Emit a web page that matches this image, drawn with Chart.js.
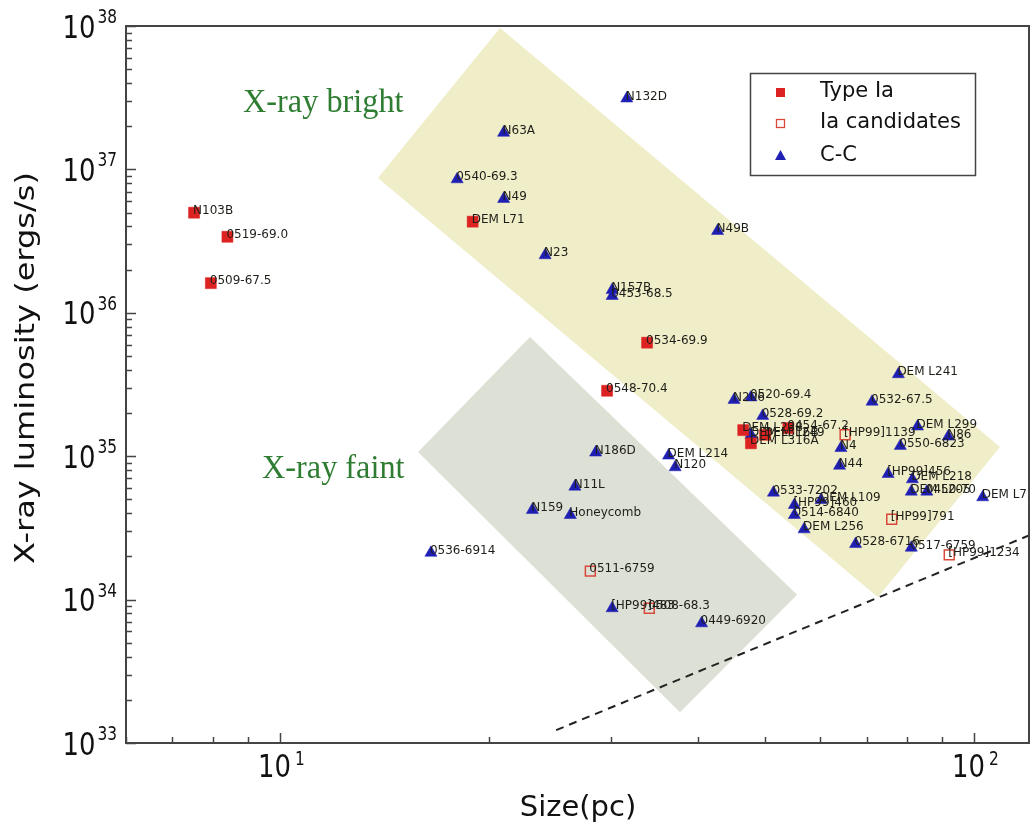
<!DOCTYPE html>
<html>
<head>
<meta charset="utf-8">
<script src="https://cdn.jsdelivr.net/npm/chart.js@4.4.1/dist/chart.umd.min.js"></script>
<style>
  html, body { margin: 0; padding: 0; background: #fff; overflow: hidden; }
  #snrChart { display: block; }
</style>
</head>
<body>
<canvas id="snrChart" width="1030" height="823"></canvas>
<script>
// Type Ia remnants
const iaNames = ['N103B', '0519-69.0', '0509-67.5', 'DEM L71', '0534-69.9', '0548-70.4',
  'DEM L238', 'DEM L249', 'DEM L316A', '0454-67.2'];
const iaSize = [7.52, 8.40, 7.95, 18.95, 33.8, 29.6, 46.5, 50.0, 47.7, 54.0];
const iaLum = [4.99e36, 3.39e36, 1.61e36, 4.32e36, 6.19e35, 2.86e35, 1.52e35, 1.41e35, 1.23e35, 1.57e35];

// Ia candidates
const candNames = ['[HP99]1139', '[HP99]791', '[HP99]1234', '0511-6759', '0508-68.3'];
const candSize = [65.2, 76.1, 92.1, 28.0, 34.05];
const candLum = [1.41e35, 3.63e34, 2.05e34, 1.58e34, 8.7e33];

// core-collapse remnants
const ccNames = ['N132D', 'N63A', '0540-69.3', 'N49', 'N49B', 'N23', 'N157B', '0453-68.5',
  'N206', '0520-69.4', '0528-69.2', 'DEM L316B', 'N4', 'N44', 'DEM L241', '0532-67.5',
  'DEM L299', 'N86', '0550-6823', 'N186D', 'DEM L214', 'N120', '[HP99]456', 'DEM L218',
  'DEM L205', '0450-70', 'DEM L72', '0533-7202', 'DEM L109', '[HP99]460', '0514-6840',
  'DEM L256', '0528-6716', '0517-6759', 'N11L', 'N159', 'Honeycomb', '0536-6914',
  '[HP99]483', '0449-6920'];
const ccSize = [31.6, 21.0, 18.0, 21.0, 42.7, 24.1, 30.1, 30.1, 45.1, 47.7, 49.6, 47.7,
  64.3, 64.0, 77.8, 71.3, 82.9, 91.8, 78.3, 28.5, 36.3, 37.1, 75.2, 81.5, 81.2, 85.5,
  102.9, 51.4, 60.2, 55.1, 55.1, 56.9, 67.5, 81.2, 26.6, 23.1, 26.2, 16.5, 30.1, 40.5];
const ccLum = [3.12e37, 1.80e37, 8.53e36, 6.22e36, 3.72e36, 2.52e36, 1.44e36, 1.31e36,
  2.47e35, 2.57e35, 1.91e35, 1.41e35, 1.14e35, 8.58e34, 3.73e35, 2.40e35, 1.61e35,
  1.37e35, 1.18e35, 1.06e35, 1.01e35, 8.37e34, 7.51e34, 6.90e34, 5.66e34, 5.66e34,
  5.17e34, 5.57e34, 4.95e34, 4.57e34, 3.89e34, 3.09e34, 2.44e34, 2.30e34, 6.13e34,
  4.22e34, 3.89e34, 2.12e34, 8.70e33, 6.83e33];

// shaded zones (corners, closed)
const brightSize = [20.75, 109.0, 72.7, 13.84, 20.75];
const brightLum = [9.68e37, 1.16e35, 1.04e34, 8.71e36, 9.68e37];
const faintSize = [22.92, 55.6, 37.7, 15.81, 22.92];
const faintLum = [6.78e35, 1.08e34, 1.64e33, 1.07e35, 6.78e35];

// dashed limit line
const limitSize = [25, 120];
const limitLum = [1.23e33, 2.8e34];

// axis ticks
const xMajor = [10, 100];
const xMajorExp = ['1', '2'];
const xMinor = [6, 7, 8, 9, 20, 30, 40, 50, 60, 70, 80, 90];
const yExp = [33, 34, 35, 36, 37, 38];

const SQ = 0.81;

function pts(xs, ys) {
  return xs.map((x, i) => ({ x: x, y: ys[i] }));
}

function sqText(ctx, txt, x, y, font, align, squash) {
  ctx.save();
  ctx.font = font;
  ctx.textAlign = align || 'left';
  ctx.textBaseline = 'alphabetic';
  ctx.translate(x, y);
  ctx.scale(squash || SQ, 1);
  ctx.fillText(txt, 0, 0);
  ctx.restore();
}

function sqWidth(ctx, txt, font, squash) {
  ctx.font = font;
  return ctx.measureText(txt).width * (squash || SQ);
}

//Nombres junto a cada punto
const pointLabels = {
  id: 'pointLabels',
  afterDatasetsDraw(chart) {
    const ctx = chart.ctx;
    const a = chart.chartArea;
    ctx.save();
    ctx.beginPath();
    ctx.rect(a.left, a.top, a.right - a.left, a.bottom - a.top);
    ctx.clip();
    ctx.fillStyle = '#1e1e18';
    ctx.font = '12px "DejaVu Sans"';
    ctx.textBaseline = 'alphabetic';
    chart.data.datasets.forEach((ds, i) => {
      if (!ds.names) return;
      const meta = chart.getDatasetMeta(i);
      meta.data.forEach((p, j) => {
        ctx.fillText(ds.names[j], p.x - 1, p.y + 1);
      });
    });
    ctx.restore();
  }
};

//Marco, ticks, titulos y leyenda
const frame = {
  id: 'frame',
  afterDraw(chart) {
    const ctx = chart.ctx;
    const a = chart.chartArea;
    const xs = chart.scales.x;
    const ys = chart.scales.y;

    // zone captions
    ctx.fillStyle = '#2f7d33';
    sqText(ctx, 'X-ray bright', xs.getPixelForValue(8.845), ys.getPixelForValue(2.51e37),
      '34px "Liberation Serif"', 'left', 0.95);
    sqText(ctx, 'X-ray faint', xs.getPixelForValue(9.42), ys.getPixelForValue(7.05e34),
      '34px "Liberation Serif"', 'left', 0.95);

    // frame
    ctx.save();
    ctx.strokeStyle = '#444';
    ctx.lineWidth = 2;
    ctx.strokeRect(a.left, a.top, a.right - a.left, a.bottom - a.top);

    // ticks (inward)
    ctx.lineWidth = 1.5;
    ctx.beginPath();
    xMajor.forEach(v => {
      const t = Math.round(xs.getPixelForValue(v)) + 0.5;
      ctx.moveTo(t, a.bottom); ctx.lineTo(t, a.bottom - 10);
    });
    xMinor.forEach(v => {
      const t = Math.round(xs.getPixelForValue(v)) + 0.5;
      ctx.moveTo(t, a.bottom); ctx.lineTo(t, a.bottom - 6);
    });
    yExp.forEach(e => {
      const t = Math.round(ys.getPixelForValue(Math.pow(10, e))) + 0.5;
      ctx.moveTo(a.left, t); ctx.lineTo(a.left + 10, t);
      if (e < 38) {
        for (let m = 2; m <= 9; m++) {
          const tm = Math.round(ys.getPixelForValue(m * Math.pow(10, e))) + 0.5;
          ctx.moveTo(a.left, tm); ctx.lineTo(a.left + 6, tm);
        }
      }
    });
    ctx.stroke();
    ctx.restore();

    // tick labels
    ctx.fillStyle = '#111';
    const big = '32px "DejaVu Sans"';
    const small = '19px "DejaVu Sans"';
    xMajor.forEach((v, i) => {
      const t = xs.getPixelForValue(v);
      const w10 = sqWidth(ctx, '10', big);
      sqText(ctx, '10', t - 22, a.bottom + 34, big, 'left');
      sqText(ctx, xMajorExp[i], t - 22 + w10 + 4, a.bottom + 22, small, 'left');
    });
    yExp.forEach(e => {
      const t = ys.getPixelForValue(Math.pow(10, e));
      const ex = String(e);
      const we = sqWidth(ctx, ex, small);
      sqText(ctx, ex, 117, t - 3, small, 'right');
      sqText(ctx, '10', 117 - we - 2, t + 11.5, big, 'right');
    });

    // axis titles
    ctx.save();
    ctx.fillStyle = '#111';
    ctx.font = '32px "DejaVu Sans"';
    ctx.textAlign = 'center';
    ctx.textBaseline = 'middle';
    ctx.translate(27, 368);
    ctx.scale(SQ, 1);
    ctx.rotate(-Math.PI / 2);
    ctx.fillText('X-ray luminosity (ergs/s)', 0, 0);
    ctx.restore();

    ctx.save();
    ctx.fillStyle = '#111';
    ctx.font = '29px "DejaVu Sans"';
    ctx.textAlign = 'center';
    ctx.textBaseline = 'alphabetic';
    ctx.fillText('Size(pc)', 578, 816);
    ctx.restore();

    // legend
    ctx.save();
    ctx.fillStyle = '#fff';
    ctx.fillRect(750, 73, 225, 102);
    ctx.strokeStyle = '#444';
    ctx.lineWidth = 1.5;
    ctx.strokeRect(750.5, 73.5, 225, 102);
    ctx.fillStyle = '#dd2222';
    ctx.fillRect(776, 88, 9, 9);
    ctx.strokeStyle = '#d9483b';
    ctx.lineWidth = 1.3;
    ctx.strokeRect(776.5, 119.5, 8, 8);
    ctx.fillStyle = '#1f1fb4';
    ctx.beginPath();
    ctx.moveTo(780.5, 150); ctx.lineTo(786, 160); ctx.lineTo(775, 160); ctx.closePath();
    ctx.fill();
    ctx.fillStyle = '#111';
    ctx.font = '21px "DejaVu Sans"';
    ctx.textBaseline = 'middle';
    ctx.fillText('Type Ia', 820, 92);
    ctx.fillText('Ia candidates', 820, 123);
    ctx.fillText('C-C', 820, 156);
    ctx.restore();
  }
};

new Chart('snrChart', {
  type: 'scatter',
  data: {
    datasets: [
      {
        label: 'X-ray bright zone',
        data: pts(brightSize, brightLum),
        showLine: true,
        fill: 'shape',
        backgroundColor: '#f0eec8',
        borderColor: 'rgba(0,0,0,0)',
        borderWidth: 1,
        pointRadius: 0,
        tension: 0,
        order: 10,
      },
      {
        label: 'X-ray faint zone',
        data: pts(faintSize, faintLum),
        showLine: true,
        fill: 'shape',
        backgroundColor: '#dde0d4',
        borderColor: 'rgba(0,0,0,0)',
        borderWidth: 1,
        pointRadius: 0,
        tension: 0,
        order: 9,
      },
      {
        label: 'limit',
        data: pts(limitSize, limitLum),
        showLine: true,
        fill: false,
        borderColor: '#222',
        borderWidth: 2,
        borderDash: [8, 6],
        pointRadius: 0,
        order: 8,
      },
      {
        label: 'C-C',
        names: ccNames,
        data: pts(ccSize, ccLum),
        pointStyle: 'triangle',
        pointRadius: 7,
        backgroundColor: '#1f1fb4',
        borderColor: '#1f1fb4',
        borderWidth: 0.5,
        order: 3,
      },
      {
        label: 'Ia candidates',
        names: candNames,
        data: pts(candSize, candLum),
        pointStyle: 'rect',
        pointRadius: 7,
        backgroundColor: 'rgba(255,255,255,0)',
        borderColor: '#d9483b',
        borderWidth: 1.5,
        order: 2,
      },
      {
        label: 'Type Ia',
        names: iaNames,
        data: pts(iaSize, iaLum),
        pointStyle: 'rect',
        pointRadius: 7.8,
        backgroundColor: '#dd2222',
        borderColor: '#dd2222',
        borderWidth: 0.5,
        order: 1,
      },
    ],
  },
  options: {
    responsive: false,
    animation: false,
    devicePixelRatio: 1,
    layout: { autoPadding: false, padding: { left: 126, top: 26, right: 1, bottom: 80 } },
    plugins: {
      legend: { display: false },
      tooltip: { enabled: false },
    },
    scales: {
      x: { type: 'logarithmic', min: 6, max: 120, display: false },
      y: { type: 'logarithmic', min: 1e33, max: 1e38, display: false },
    },
  },
  plugins: [pointLabels, frame],
});
</script>
</body>
</html>
